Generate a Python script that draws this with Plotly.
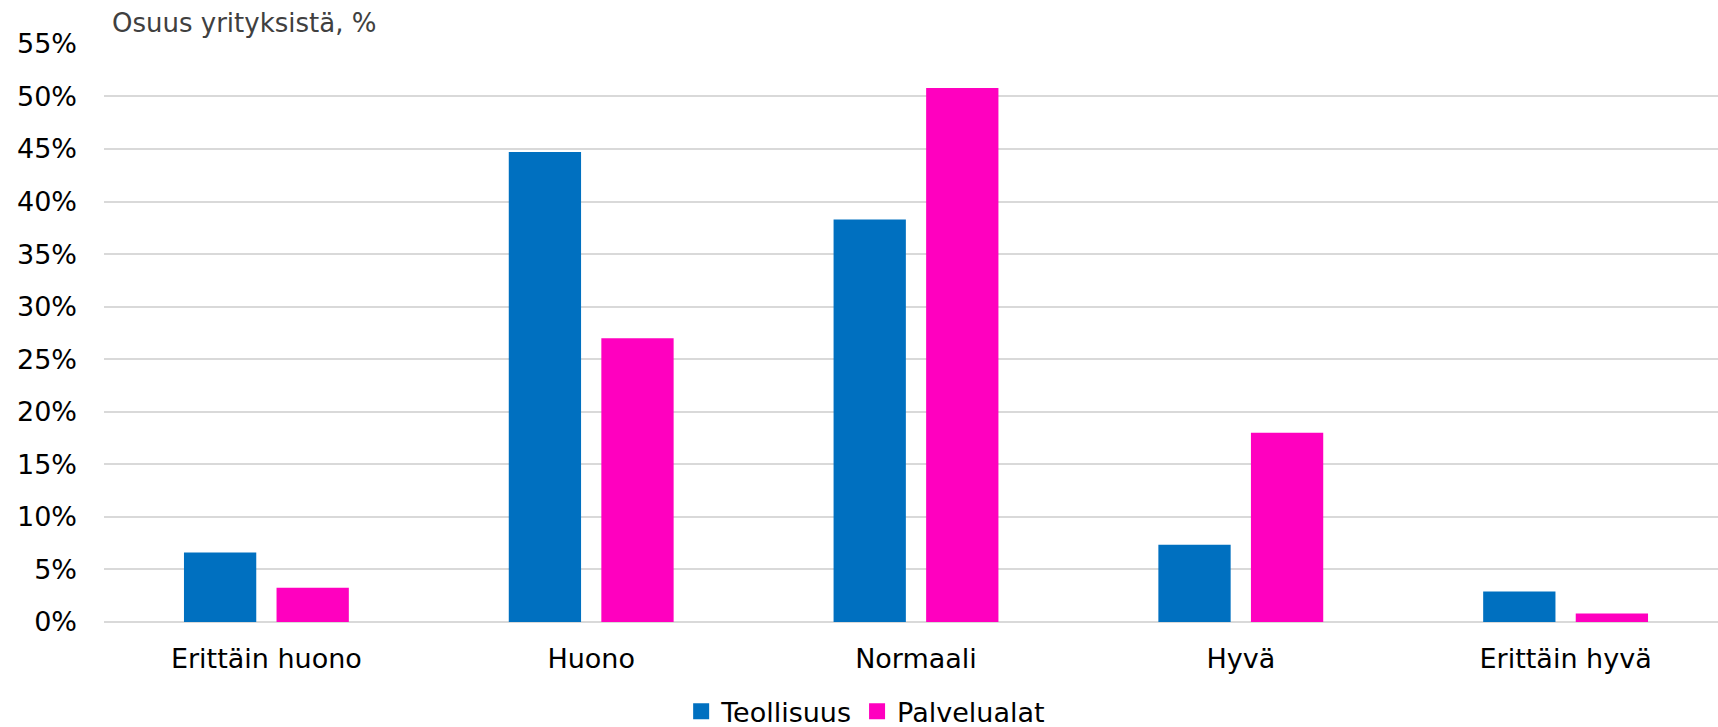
import plotly.graph_objects as go

categories = ["Erittäin huono", "Huono", "Normaali", "Hyvä", "Erittäin hyvä"]
teollisuus = [6.6, 44.7, 38.3, 7.35, 2.9]
palvelualat = [3.25, 27.0, 50.8, 18.0, 0.8]
series_names = ["Teollisuus", "Palvelualat"]
colors = ["#0070C0", "#FF00BF"]
y_ticks = list(range(0, 56, 5))
y_ticklabels = [f"{v}%" for v in y_ticks]

FONT = "DejaVu Sans"

fig = go.Figure()
for name, vals, col in zip(series_names, [teollisuus, palvelualat], colors):
    fig.add_trace(go.Bar(x=categories, y=vals, name=name, marker=dict(color=col, line=dict(width=0)),
                         showlegend=False))
    # legend-only entry with larger square symbol
    fig.add_trace(go.Scatter(x=[None], y=[None], mode="markers", name=name,
                             marker=dict(symbol="square", size=16, color=col)))

fig.update_layout(
    width=1728, height=727,
    margin=dict(l=104, r=0, t=43, b=105, autoexpand=False),
    paper_bgcolor="white", plot_bgcolor="white",
    barmode="group", bargap=0.43, bargroupgap=0.219,
    font=dict(family=FONT, size=27, color="#000000"),
    legend=dict(orientation="h", x=0.469, xanchor="center", y=-0.155, yanchor="middle",
                font=dict(size=27, color="#000000"), itemclick=False, traceorder="normal"),
    annotations=[dict(text="Osuus yrityksistä, %", xref="paper", yref="paper", x=0.004, y=1.034,
                      xanchor="left", yanchor="middle", showarrow=False,
                      font=dict(size=26, color="#404040", family=FONT))],
)
fig.update_xaxes(showgrid=False, showline=False, zeroline=False, ticks="",
                 ticklabelstandoff=18, tickfont=dict(size=27, color="#000000"))
fig.update_yaxes(range=[0, 55.08], tickvals=y_ticks, ticktext=y_ticklabels, showgrid=True,
                 gridcolor="#D9D9D9", gridwidth=2, zeroline=True, zerolinecolor="#D9D9D9",
                 zerolinewidth=2, showline=False, ticks="", ticklabelstandoff=26,
                 tickfont=dict(size=27, color="#000000"))

fig.write_html("out.html", config={"displayModeBar": False},
               post_script="document.body.style.margin='0';document.body.style.overflow='hidden';")
